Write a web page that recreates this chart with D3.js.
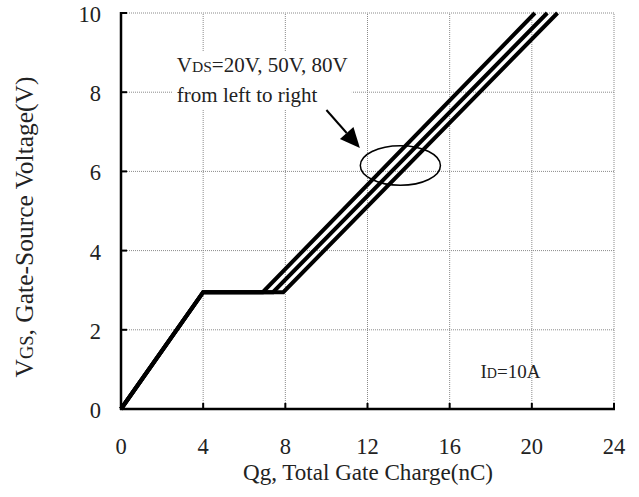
<!DOCTYPE html>
<html>
<head>
<meta charset="utf-8">
<script src="https://cdn.jsdelivr.net/npm/d3@7"></script>
<style>
  html, body { margin: 0; padding: 0; background: #fff; }
  svg { display: block; }
  text { font-family: "Liberation Serif", "Times New Roman", serif; fill: #222; }
</style>
</head>
<body>
<svg id="chart" width="639" height="497" font-family="Liberation Serif, serif"></svg>
<script>
// Gate charge curves, one per drain-source voltage
const qg20 = [0, 4, 6.9, 20.15];
const qg50 = [0, 4, 7.4, 20.75];
const qg80 = [0, 4, 7.9, 21.25];
const vgs  = [0, 2.95, 2.95, 10];

const xTicks = [0, 4, 8, 12, 16, 20, 24];
const yTicks = [0, 2, 4, 6, 8, 10];

const W = 639, H = 497;
const m = { left: 121, right: 25, top: 13, bottom: 88 };

const svg = d3.select("#chart");
const x = d3.scaleLinear().domain([0, 24]).range([m.left, W - m.right]);
const y = d3.scaleLinear().domain([0, 10]).range([H - m.bottom, m.top]);

const grid = svg.append("g")
  .attr("stroke", "#8a8a8a").attr("stroke-width", 1)
  .attr("stroke-dasharray", "1,1").attr("fill", "none");
xTicks.slice(1).forEach(t => grid.append("line")
  .attr("x1", x(t)).attr("x2", x(t)).attr("y1", y(0)).attr("y2", y(10)));
yTicks.slice(1).forEach(t => grid.append("line")
  .attr("x1", x(0)).attr("x2", x(24)).attr("y1", y(t)).attr("y2", y(t)));

// Solid axes on the left and bottom with short inward ticks
const axes = svg.append("g").attr("stroke", "#000").attr("fill", "none");
axes.append("line").attr("stroke-width", 2.5)
  .attr("x1", x(0)).attr("x2", x(0)).attr("y1", y(0) + 1).attr("y2", y(10) - 1);
axes.append("line").attr("stroke-width", 2.5)
  .attr("x1", x(0) - 1).attr("x2", x(24) + 1).attr("y1", y(0)).attr("y2", y(0));
yTicks.forEach(t => axes.append("line").attr("stroke-width", 2)
  .attr("x1", x(0)).attr("x2", x(0) + 6).attr("y1", y(t)).attr("y2", y(t)));
xTicks.forEach(t => axes.append("line").attr("stroke-width", 2)
  .attr("x1", x(t)).attr("x2", x(t)).attr("y1", y(0)).attr("y2", y(0) - 6));

// Tick labels
svg.append("g").selectAll("text").data(xTicks).join("text")
  .attr("x", d => x(d)).attr("y", y(0) + 45)
  .attr("text-anchor", "middle").attr("font-size", 22.5)
  .text(d => d);
svg.append("g").selectAll("text").data(yTicks).join("text")
  .attr("x", x(0) - 20).attr("y", d => y(d) + 9)
  .attr("text-anchor", "end").attr("font-size", 22.5)
  .text(d => d);

// Axis titles
svg.append("text")
  .attr("x", 368).attr("y", H - 17)
  .attr("text-anchor", "middle").attr("font-size", 23)
  .attr("textLength", 250).attr("lengthAdjust", "spacingAndGlyphs")
  .text("Qg, Total Gate Charge(nC)");

const yl = svg.append("text")
  .attr("transform", `translate(33,227) rotate(-90)`)
  .attr("text-anchor", "middle").attr("font-size", 25.5);
yl.append("tspan").text("V");
yl.append("tspan").attr("font-size", 18.5).text("GS");
yl.append("tspan").text(", Gate-Source Voltage(V)");

// Curves
const line = d3.line().x(d => x(d[0])).y(d => y(d[1]));
const curves = svg.append("g").attr("fill", "none").attr("stroke", "#000")
  .attr("stroke-width", 4).attr("stroke-linejoin", "miter");
[qg20, qg50, qg80].forEach(q => curves.append("path")
  .attr("d", line(q.map((v, i) => [v, vgs[i]]))));

// Annotation: label, arrow, ellipse
const ann = svg.append("g");
const t1 = ann.append("text").attr("x", x(2.72)).attr("y", y(8.5)).attr("font-size", 21);
t1.append("tspan").text("V");
t1.append("tspan").attr("font-size", 15.5).text("DS");
t1.append("tspan").text("=20V, 50V, 80V");
const t2 = ann.append("text").attr("x", x(2.72)).attr("y", y(7.75)).attr("font-size", 21)
  .text("from left to right");
const b1 = t1.node().getBBox(), b2 = t2.node().getBBox();
const bx0 = Math.min(b1.x, b2.x) - 4, by0 = b1.y - 2;
const bx1 = Math.max(b1.x + b1.width, b2.x + b2.width) + 4, by1 = b2.y + b2.height + 2;
ann.insert("rect", "text").attr("x", bx0).attr("y", by0)
  .attr("width", bx1 - bx0).attr("height", by1 - by0).attr("fill", "#fff");

const ax0 = [10.0, 7.55], ax1 = [11.63, 6.59];
const p0 = [x(ax0[0]), y(ax0[1])], p1 = [x(ax1[0]), y(ax1[1])];
const ang = Math.atan2(p1[1] - p0[1], p1[0] - p0[0]);
const hl = 20, hw = 9;
const base = [p1[0] - hl * Math.cos(ang), p1[1] - hl * Math.sin(ang)];
ann.append("line").attr("x1", p0[0]).attr("y1", p0[1]).attr("x2", base[0]).attr("y2", base[1])
  .attr("stroke", "#000").attr("stroke-width", 2);
ann.append("path").attr("fill", "#000").attr("d",
  `M${p1[0]},${p1[1]}L${base[0] - hw * Math.sin(ang)},${base[1] + hw * Math.cos(ang)}` +
  `L${base[0] + hw * Math.sin(ang)},${base[1] - hw * Math.cos(ang)}Z`);

ann.append("ellipse")
  .attr("cx", x(13.6)).attr("cy", y(6.15))
  .attr("rx", x(13.6 + 1.95) - x(13.6)).attr("ry", y(6.15) - y(6.65))
  .attr("fill", "none").attr("stroke", "#000").attr("stroke-width", 1.5);

// Test condition
const idl = svg.append("text").attr("x", x(17.5)).attr("y", y(0.78)).attr("font-size", 19);
idl.append("tspan").text("I");
idl.append("tspan").attr("font-size", 14).text("D");
idl.append("tspan").text("=10A");
</script>
</body>
</html>
